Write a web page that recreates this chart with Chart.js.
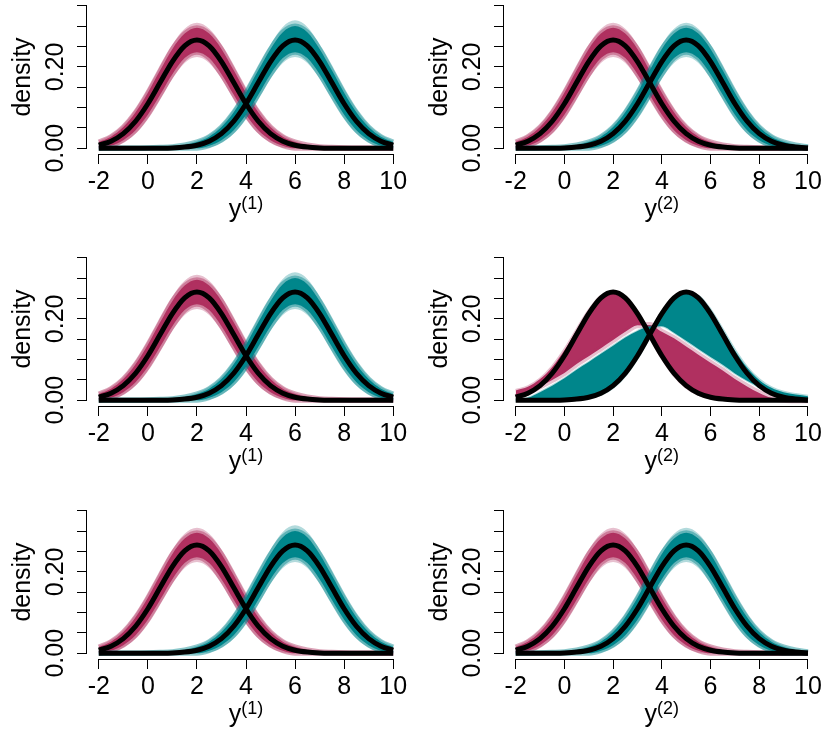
<!DOCTYPE html>
<html>
<head>
<meta charset="utf-8">
<script src="https://cdn.jsdelivr.net/npm/chart.js@4.4.1/dist/chart.umd.min.js"></script>
<style>
  html, body { margin: 0; padding: 0; background: #fff; }
  #wrap { position: relative; width: 825px; height: 733px; overflow: hidden; }
  #wrap canvas { position: absolute; }
</style>
</head>
<body>
<div id="wrap"></div>
<script>
// grid the densities were read on
const xGrid = [-2, -1.5, -1, -0.5, 0, 0.5, 1, 1.5, 2, 2.5, 3, 3.5, 4, 4.5, 5, 5.5, 6, 6.5, 7, 7.5, 8, 8.5, 9, 9.5, 10];

// true component densities (black lines)
const densityRed   = [0.0076, 0.0175, 0.0360, 0.0663, 0.1093, 0.1613, 0.2130, 0.2516, 0.2660, 0.2516, 0.2130, 0.1613, 0.1093, 0.0663, 0.0360, 0.0175, 0.0076, 0.0030, 0.0010, 0.0003, 0.0001, 0, 0, 0, 0];
const densityTeal5 = [0, 0, 0.0001, 0.0003, 0.0010, 0.0030, 0.0076, 0.0175, 0.0360, 0.0663, 0.1093, 0.1613, 0.2130, 0.2516, 0.2660, 0.2516, 0.2130, 0.1613, 0.1093, 0.0663, 0.0360, 0.0175, 0.0076, 0.0030, 0.0010];
const densityTeal6 = [0, 0, 0, 0, 0.0001, 0.0003, 0.0010, 0.0030, 0.0076, 0.0175, 0.0360, 0.0663, 0.1093, 0.1613, 0.2130, 0.2516, 0.2660, 0.2516, 0.2130, 0.1613, 0.1093, 0.0663, 0.0360, 0.0175, 0.0076];

// envelopes of the posterior draws, narrow panels
const redBandHi   = [0.0156, 0.0285, 0.052, 0.0883, 0.1363, 0.1913, 0.244, 0.2816, 0.296, 0.2816, 0.244, 0.1913, 0.1363, 0.0883, 0.052, 0.0285, 0.0156, 0.008, 0.004, 0.0023, 0.0011, 0.0005, 0.0005, 0.0005, 0.0005];
const redBandLo   = [0, 0.0065, 0.020, 0.0443, 0.0823, 0.1313, 0.182, 0.2216, 0.236, 0.2216, 0.182, 0.1313, 0.0823, 0.0443, 0.020, 0.0065, 0, 0, 0, 0, 0, 0, 0, 0, 0];
const redFringeHi = [0.0186, 0.0335, 0.058, 0.0963, 0.1453, 0.2013, 0.255, 0.2936, 0.308, 0.2936, 0.255, 0.2013, 0.1453, 0.0963, 0.058, 0.0335, 0.0186, 0.010, 0.006, 0.0033, 0.0021, 0.001, 0.001, 0.001, 0.001];
const redFringeLo = [0, 0.0015, 0.014, 0.0363, 0.0733, 0.1213, 0.171, 0.2096, 0.224, 0.2096, 0.171, 0.1213, 0.0733, 0.0363, 0.014, 0.0015, 0, 0, 0, 0, 0, 0, 0, 0, 0];

const teal5BandHi   = [0.0005, 0.0005, 0.0011, 0.0023, 0.004, 0.008, 0.0156, 0.0285, 0.052, 0.0883, 0.1363, 0.1913, 0.244, 0.2816, 0.296, 0.2816, 0.244, 0.1913, 0.1363, 0.0883, 0.052, 0.0285, 0.0156, 0.008, 0.004];
const teal5BandLo   = [0, 0, 0, 0, 0, 0, 0, 0.0065, 0.020, 0.0443, 0.0823, 0.1313, 0.182, 0.2216, 0.236, 0.2216, 0.182, 0.1313, 0.0823, 0.0443, 0.020, 0.0065, 0, 0, 0];
const teal5FringeHi = [0.001, 0.001, 0.0021, 0.0033, 0.006, 0.010, 0.0186, 0.0335, 0.058, 0.0963, 0.1453, 0.2013, 0.255, 0.2936, 0.308, 0.2936, 0.255, 0.2013, 0.1453, 0.0963, 0.058, 0.0335, 0.0186, 0.010, 0.006];
const teal5FringeLo = [0, 0, 0, 0, 0, 0, 0, 0.0015, 0.014, 0.0363, 0.0733, 0.1213, 0.171, 0.2096, 0.224, 0.2096, 0.171, 0.1213, 0.0733, 0.0363, 0.014, 0.0015, 0, 0, 0];

const teal6BandHi   = [0.0005, 0.0005, 0.0005, 0.0005, 0.0011, 0.0023, 0.004, 0.008, 0.0156, 0.0285, 0.052, 0.0883, 0.1363, 0.1913, 0.244, 0.285, 0.300, 0.285, 0.244, 0.1913, 0.1363, 0.0883, 0.052, 0.0285, 0.0156];
const teal6BandLo   = [0, 0, 0, 0, 0, 0, 0, 0, 0, 0.0065, 0.020, 0.0443, 0.0823, 0.1313, 0.182, 0.2216, 0.236, 0.2216, 0.182, 0.1313, 0.0823, 0.0443, 0.020, 0.0065, 0];
const teal6FringeHi = [0.001, 0.001, 0.001, 0.001, 0.0021, 0.0033, 0.006, 0.010, 0.0186, 0.0335, 0.058, 0.0963, 0.1453, 0.2013, 0.255, 0.298, 0.314, 0.298, 0.255, 0.2013, 0.1453, 0.0963, 0.058, 0.0335, 0.0186];
const teal6FringeLo = [0, 0, 0, 0, 0, 0, 0, 0, 0, 0.0015, 0.014, 0.0363, 0.0733, 0.1213, 0.171, 0.2096, 0.224, 0.2096, 0.171, 0.1213, 0.0733, 0.0363, 0.014, 0.0015, 0];

// envelopes of the posterior draws, the wide panel (row 2, right)
const redWideEdge  = [0.024, 0.033, 0.052, 0.082, 0.123, 0.172, 0.220, 0.255, 0.262, 0.2456, 0.207, 0.1563, 0.1043, 0.0613, 0.032, 0.0145, 0.0056, 0.002, 0.0005, 0, 0, 0, 0, 0, 0];
const redWideFlat  = [0.008, 0.019, 0.034, 0.050, 0.067, 0.089, 0.108, 0.128, 0.148, 0.168, 0.184, 0.185, 0.168, 0.152, 0.132, 0.112, 0.092, 0.073, 0.052, 0.034, 0.018, 0.006, 0.001, 0, 0];
const tealWideEdge = [0, 0, 0, 0, 0.0005, 0.002, 0.0056, 0.0145, 0.032, 0.0613, 0.1043, 0.1563, 0.207, 0.2456, 0.262, 0.2556, 0.221, 0.1723, 0.1223, 0.0803, 0.050, 0.0305, 0.0196, 0.014, 0.010];
const tealWideFlat = [0, 0.006, 0.020, 0.036, 0.054, 0.075, 0.094, 0.114, 0.134, 0.154, 0.170, 0.181, 0.182, 0.166, 0.146, 0.126, 0.106, 0.087, 0.066, 0.048, 0.032, 0.018, 0.010, 0.006, 0.003];

// axes
const xTicks = [-2, 0, 2, 4, 6, 8, 10];
const yTicks = [0, 0.05, 0.10, 0.15, 0.20, 0.25, 0.30, 0.35];
const yLabelValues = [0, 0.20];
const yLabelTexts = ['0.00', '0.20'];
const xRange = [-2.48, 10.48];
const yRange = [-0.014, 0.364];

const RED = '#B03060';
const TEAL = '#00868B';
const NONE = 'rgba(0,0,0,0)';
const FONT = "'Liberation Sans', Arial, Helvetica, sans-serif";

function redA(a) { return 'rgba(176,48,96,' + a + ')'; }
function tealA(a) { return 'rgba(0,134,139,' + a + ')'; }

const panels = [
  { row: 0, col: 0, kind: 'y1', sup: '(1)' },
  { row: 0, col: 1, kind: 'y2', sup: '(2)' },
  { row: 1, col: 0, kind: 'y1', sup: '(1)' },
  { row: 1, col: 1, kind: 'wide', sup: '(2)' },
  { row: 2, col: 0, kind: 'y1', sup: '(1)' },
  { row: 2, col: 1, kind: 'y2', sup: '(2)' }
];
const rowTop = [0, 252, 505];
const colLeft = [0, 417];
const colWidth = [417, 408];
const panelHeight = 228;
const areaLeft = 87, areaRight = 405, areaBottom = 154;

function pts(arr) {
  return xGrid.map((x, i) => ({ x: x, y: arr[i] }));
}

// filled region between two envelopes; edge is a soft border on both sides
function band(hi, lo, color, edge, edgeWidth) {
  return [
    { data: pts(hi), fill: '+1', backgroundColor: color, borderColor: edge, borderWidth: edgeWidth },
    { data: pts(lo), fill: false, borderColor: edge, borderWidth: edgeWidth }
  ];
}

function curve(arr, color, width) {
  return { data: pts(arr), fill: false, borderColor: color, borderWidth: width };
}

function buildDatasets(kind) {
  let sets;
  if (kind === 'wide') {
    sets = [
      { data: pts(redWideEdge), fill: '+1', backgroundColor: RED, borderColor: redA(0.3), borderWidth: 3 },
      { data: pts(redWideFlat), fill: false, borderColor: redA(0.3), borderWidth: 6 },
      { data: pts(tealWideEdge), fill: '+1', backgroundColor: TEAL, borderColor: tealA(0.3), borderWidth: 3 },
      { data: pts(tealWideFlat), fill: false, borderColor: tealA(0.3), borderWidth: 2 },
      curve(densityRed, '#000', 5),
      curve(densityTeal5, '#000', 5)
    ];
  } else {
    const teal = kind === 'y1'
      ? [teal6FringeHi, teal6FringeLo, teal6BandHi, teal6BandLo, densityTeal6]
      : [teal5FringeHi, teal5FringeLo, teal5BandHi, teal5BandLo, densityTeal5];
    sets = [].concat(
      band(redFringeHi, redFringeLo, redA(0.3), NONE, 0),
      band(redBandHi, redBandLo, RED, redA(0.45), 5),
      band(teal[0], teal[1], tealA(0.3), NONE, 0),
      band(teal[2], teal[3], TEAL, tealA(0.45), 5),
      [curve(densityRed, '#000', 5), curve(teal[4], '#000', 5)]
    );
  }
  // first in the list is painted first
  sets.forEach((d, i) => { d.order = sets.length - i; });
  return sets;
}

// R style axes: line only between the end ticks, rotated y labels, titles
function makeDecor(sup) {
  return {
    id: 'axisDecor',
    afterDraw(chart) {
      const { ctx, chartArea } = chart;
      const x = chart.scales.x, y = chart.scales.y;
      ctx.save();
      ctx.strokeStyle = '#000';
      ctx.lineWidth = 1;
      const xb = Math.round(chartArea.bottom) + 0.5;
      const yl = Math.round(chartArea.left) - 0.5;
      ctx.beginPath();
      ctx.moveTo(x.getPixelForValue(xTicks[0]), xb);
      ctx.lineTo(x.getPixelForValue(xTicks[xTicks.length - 1]), xb);
      ctx.moveTo(yl, y.getPixelForValue(yTicks[0]));
      ctx.lineTo(yl, y.getPixelForValue(yTicks[yTicks.length - 1]));
      ctx.stroke();

      ctx.fillStyle = '#000';
      ctx.font = '25px ' + FONT;
      ctx.textAlign = 'center';
      ctx.textBaseline = 'alphabetic';
      yLabelValues.forEach((v, i) => {
        ctx.save();
        ctx.translate(chartArea.left - 24, y.getPixelForValue(v));
        ctx.rotate(-Math.PI / 2);
        ctx.fillText(yLabelTexts[i], 0, 0);
        ctx.restore();
      });

      ctx.save();
      ctx.translate(chartArea.left - 57, (chartArea.top + chartArea.bottom) / 2);
      ctx.rotate(-Math.PI / 2);
      ctx.fillText('density', 0, 0);
      ctx.restore();

      // x title: y with a superscript
      const base = chartArea.bottom + 62.5;
      const cx = (chartArea.left + chartArea.right) / 2;
      ctx.font = '25px ' + FONT;
      const wMain = ctx.measureText('y').width;
      ctx.font = '18px ' + FONT;
      const wSup = ctx.measureText(sup).width;
      const x0 = cx - (wMain + wSup) / 2;
      ctx.textAlign = 'left';
      ctx.font = '25px ' + FONT;
      ctx.fillText('y', x0, base);
      ctx.font = '18px ' + FONT;
      ctx.fillText(sup, x0 + wMain, base - 8);
      ctx.restore();
    }
  };
}

const wrap = document.getElementById('wrap');
panels.forEach(p => {
  const w = colWidth[p.col], h = panelHeight;
  const canvas = document.createElement('canvas');
  canvas.width = w;
  canvas.height = h;
  canvas.style.left = colLeft[p.col] + 'px';
  canvas.style.top = rowTop[p.row] + 'px';
  canvas.style.width = w + 'px';
  canvas.style.height = h + 'px';
  wrap.appendChild(canvas);

  const tickGrid = { drawOnChartArea: false, drawTicks: true, tickLength: 10, color: '#000', lineWidth: 1 };

  new Chart(canvas, {
    type: 'line',
    data: { datasets: buildDatasets(p.kind) },
    options: {
      responsive: false,
      animation: false,
      events: [],
      layout: { padding: { left: 0, top: 0, right: w - areaRight, bottom: 0 } },
      elements: {
        point: { radius: 0 },
        line: { cubicInterpolationMode: 'monotone' }
      },
      plugins: { legend: { display: false }, tooltip: { enabled: false } },
      scales: {
        x: {
          type: 'linear',
          min: xRange[0],
          max: xRange[1],
          afterBuildTicks: s => { s.ticks = xTicks.map(v => ({ value: v })); },
          afterFit: s => { s.height = h - areaBottom; },
          grid: tickGrid,
          border: { display: false },
          ticks: {
            color: '#000',
            font: { family: FONT, size: 25 },
            padding: 3,
            maxRotation: 0,
            autoSkip: false,
            callback: v => String(v)
          }
        },
        y: {
          type: 'linear',
          min: yRange[0],
          max: yRange[1],
          afterBuildTicks: s => { s.ticks = yTicks.map(v => ({ value: v })); },
          afterFit: s => { s.width = areaLeft; },
          grid: tickGrid,
          border: { display: false },
          ticks: { display: false }
        }
      }
    },
    plugins: [makeDecor(p.sup)]
  });
});
</script>
</body>
</html>
